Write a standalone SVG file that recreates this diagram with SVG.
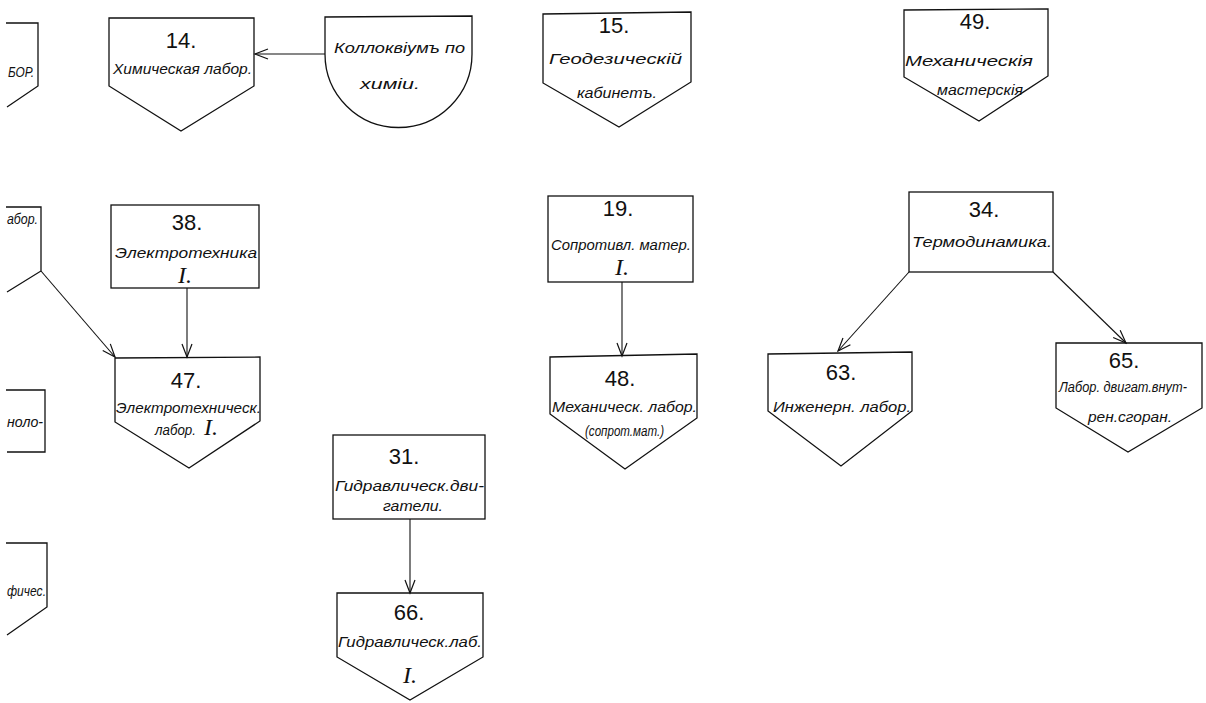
<svg xmlns="http://www.w3.org/2000/svg" width="1206" height="703" viewBox="0 0 1206 703">
<style>
.shape{fill:none;stroke:#111;stroke-width:1.3;stroke-linejoin:miter}
.num{font-family:"Liberation Sans",sans-serif;font-size:22px;fill:#111;text-anchor:middle}
.lbl{font-family:"Liberation Sans","DejaVu Sans",sans-serif;font-style:italic;font-size:15.5px;fill:#111}
.rom{font-family:"Liberation Serif",serif;font-style:italic;font-size:24px;fill:#111;text-anchor:middle}
.edge{fill:none;stroke:#111;stroke-width:1.1}
</style>
<defs>
<marker id="arr" markerUnits="userSpaceOnUse" markerWidth="16" markerHeight="12" refX="14" refY="6" orient="auto">
<path d="M1,1 L14,6 L1,11" fill="none" stroke="#111" stroke-width="1.2"/>
</marker>
</defs>
<rect width="1206" height="703" fill="#fff"/>

<g id="partial1">
<path class="shape" d="M6,23 L38,23 L38,86 L7,107"/>
<text class="lbl" x="8" y="77" textLength="26" lengthAdjust="spacingAndGlyphs" font-size="11">БОР.</text>
</g>
<g id="partial2">
<path class="shape" d="M6,207 L41,207 L41,271 L7,292"/>
<text class="lbl" x="7" y="224" textLength="31" lengthAdjust="spacingAndGlyphs" font-size="11">абор.</text>
</g>
<g id="partial3">
<path class="shape" d="M6,390 L45,390 L45,452 L7,452"/>
<text class="lbl" x="7" y="427" textLength="36" lengthAdjust="spacingAndGlyphs" font-size="11">ноло-</text>
</g>
<g id="partial4">
<path class="shape" d="M6,543 L47,543 L47,607 L7,635"/>
<text class="lbl" x="7" y="596" textLength="39" lengthAdjust="spacingAndGlyphs" font-size="11">фичес.</text>
</g>

<g id="n14">
<path class="shape" d="M109,18 L254,18 L254,86 L181,131 L109,86 Z"/>
<text class="num" x="181" y="48" font-size="25">14.</text>
<text class="lbl" x="113" y="74" textLength="139" lengthAdjust="spacingAndGlyphs">Химическая лабор.</text>
</g>

<g id="kolloq">
<path class="shape" d="M325,17 L472,16 L472,54 A73.5,73.5 0 0 1 325,54 Z"/>
<text class="lbl" x="334" y="53" textLength="131" lengthAdjust="spacingAndGlyphs">Коллоквiумъ по</text>
<text class="lbl" x="360" y="89" textLength="60" lengthAdjust="spacingAndGlyphs">химiи.</text>
</g>

<g id="n15">
<path class="shape" d="M543,14 L691,12 L691,82 L619,127 L543,83 Z"/>
<text class="num" x="614" y="33">15.</text>
<text class="lbl" x="549" y="64" textLength="133" lengthAdjust="spacingAndGlyphs">Геодезическiй</text>
<text class="lbl" x="577" y="98" textLength="80" lengthAdjust="spacingAndGlyphs">кабинетъ.</text>
</g>

<g id="n49">
<path class="shape" d="M904,10 L1048,9 L1048,76 L979,121 L904,77 Z"/>
<text class="num" x="975" y="29">49.</text>
<text class="lbl" x="905" y="66" textLength="128" lengthAdjust="spacingAndGlyphs">Механическiя</text>
<text class="lbl" x="937" y="95" textLength="86" lengthAdjust="spacingAndGlyphs">мастерскiя</text>
</g>

<g id="n38">
<rect class="shape" x="111" y="205" width="148" height="83"/>
<text class="num" x="187" y="230">38.</text>
<text class="lbl" x="115" y="258" textLength="142" lengthAdjust="spacingAndGlyphs">Электротехника</text>
<text class="rom" x="185" y="283">I.</text>
</g>

<g id="n47">
<path class="shape" d="M115,358 L260,357 L260,421 L189,468 L115,422 Z"/>
<text class="num" x="186" y="388">47.</text>
<text class="lbl" x="116" y="413" textLength="145" lengthAdjust="spacingAndGlyphs">Электротехническ.</text>
<text class="lbl" x="155" y="435" textLength="41" lengthAdjust="spacingAndGlyphs">лабор.</text>
<text class="rom" x="211" y="435">I.</text>
</g>

<g id="n19">
<rect class="shape" x="548" y="196" width="145" height="86"/>
<text class="num" x="618" y="216">19.</text>
<text class="lbl" x="551" y="250" textLength="140" lengthAdjust="spacingAndGlyphs">Сопротивл. матер.</text>
<text class="rom" x="622" y="275">I.</text>
</g>

<g id="n48">
<path class="shape" d="M550,357 L697,354 L697,418 L625,469 L550,414 Z"/>
<text class="num" x="620" y="386">48.</text>
<text class="lbl" x="552" y="412" textLength="145" lengthAdjust="spacingAndGlyphs">Механическ. лабор.</text>
<text class="lbl" x="585" y="436" textLength="79" lengthAdjust="spacingAndGlyphs" font-size="13">(сопрот.мат.)</text>
</g>

<g id="n34">
<rect class="shape" x="909" y="192" width="144" height="80"/>
<text class="num" x="984" y="217">34.</text>
<text class="lbl" x="912" y="247" textLength="140" lengthAdjust="spacingAndGlyphs">Термодинамика.</text>
</g>

<g id="n63">
<path class="shape" d="M768,354 L912,352 L912,411 L841,466 L768,411 Z"/>
<text class="num" x="841" y="380">63.</text>
<text class="lbl" x="773" y="412" textLength="138" lengthAdjust="spacingAndGlyphs">Инженерн. лабор.</text>
</g>

<g id="n65">
<path class="shape" d="M1056,343 L1202,343 L1202,408 L1128,452 L1056,408 Z"/>
<text class="num" x="1124" y="368">65.</text>
<text class="lbl" x="1059" y="392" textLength="128" lengthAdjust="spacingAndGlyphs" font-size="12">Лабор. двигат.внут-</text>
<text class="lbl" x="1088" y="422" textLength="84" lengthAdjust="spacingAndGlyphs" font-size="14">рен.сгоран.</text>
</g>

<g id="n31">
<rect class="shape" x="333" y="435" width="152" height="84"/>
<text class="num" x="404" y="464">31.</text>
<text class="lbl" x="335" y="491" textLength="149" lengthAdjust="spacingAndGlyphs">Гидравлическ.дви-</text>
<text class="lbl" x="383" y="511" textLength="60" lengthAdjust="spacingAndGlyphs">гатели.</text>
</g>

<g id="n66">
<path class="shape" d="M337,593 L483,593 L483,657 L410,700 L337,657 Z"/>
<text class="num" x="409" y="620">66.</text>
<text class="lbl" x="338" y="647" textLength="144" lengthAdjust="spacingAndGlyphs">Гидравлическ.лаб.</text>
<text class="rom" x="410" y="683">I.</text>
</g>

<g id="connectors">
<line class="edge" x1="325" y1="54" x2="255" y2="54" marker-end="url(#arr)"/>
<line class="edge" x1="41" y1="271" x2="115" y2="357" marker-end="url(#arr)"/>
<line class="edge" x1="187" y1="288" x2="187" y2="357" marker-end="url(#arr)"/>
<line class="edge" x1="622" y1="282" x2="622" y2="356" marker-end="url(#arr)"/>
<line class="edge" x1="909" y1="272" x2="838" y2="351" marker-end="url(#arr)"/>
<line class="edge" x1="1053" y1="272" x2="1126" y2="343" marker-end="url(#arr)"/>
<line class="edge" x1="410" y1="519" x2="410" y2="593" marker-end="url(#arr)"/>
</g>
</svg>
